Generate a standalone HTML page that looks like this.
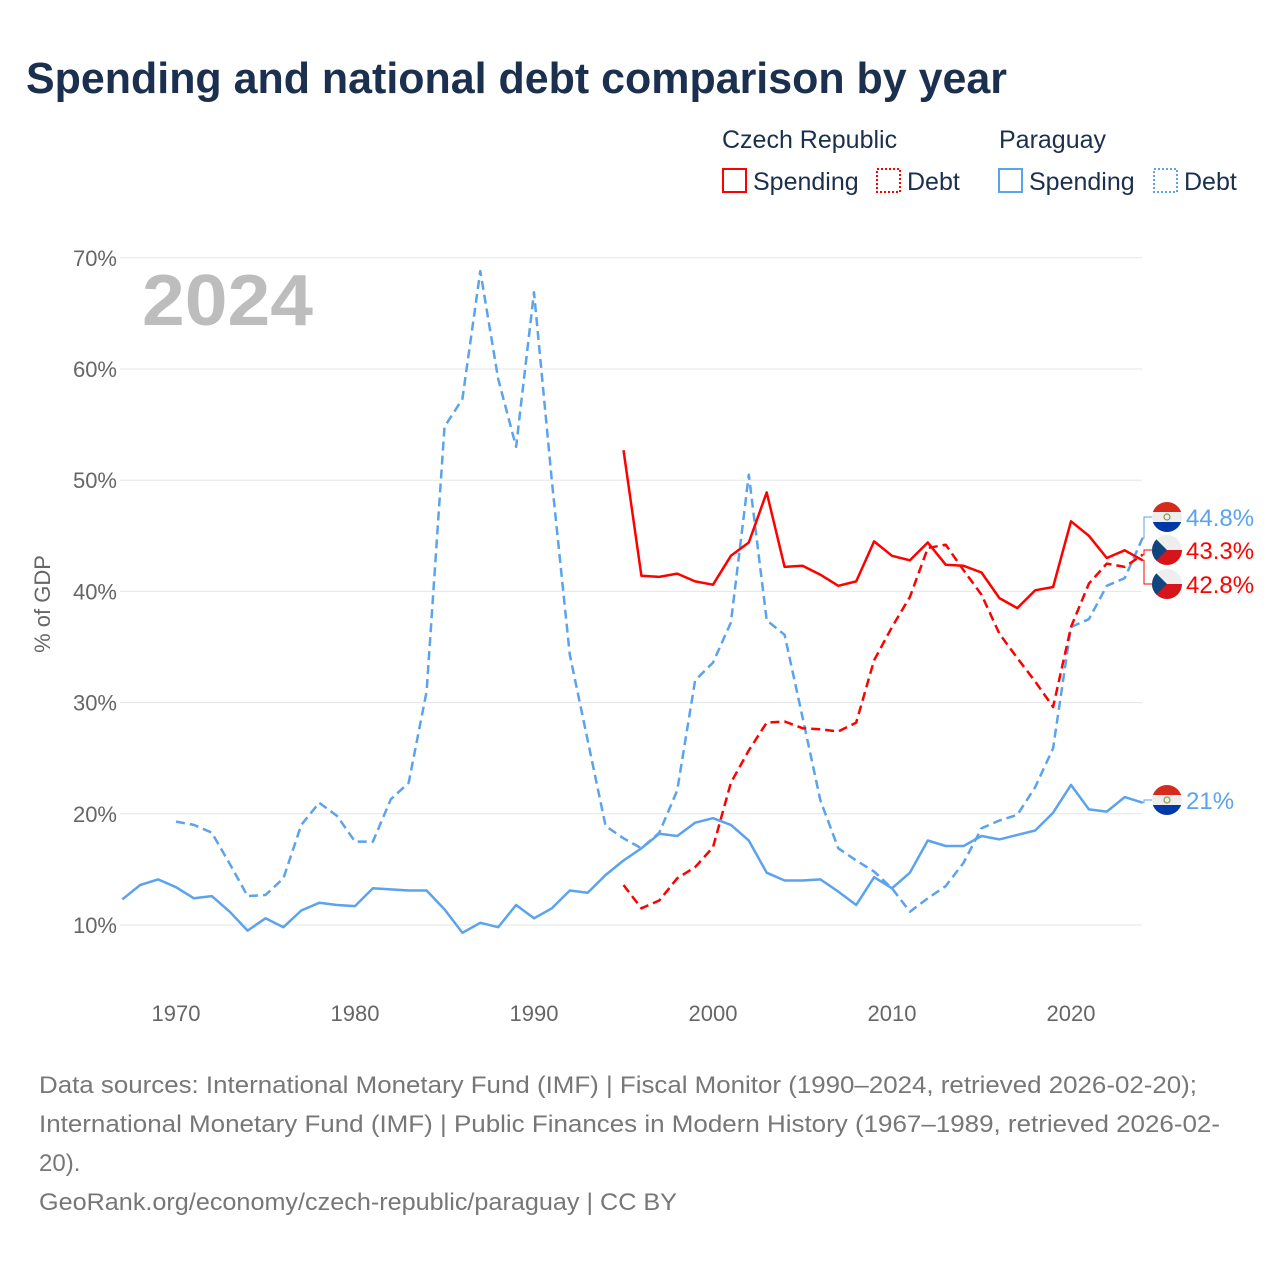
<!DOCTYPE html>
<html><head><meta charset="utf-8">
<style>
body{margin:0;background:#fff;width:1280px;height:1280px;overflow:hidden;font-family:"Liberation Sans",sans-serif;}
</style></head>
<body>
<svg id="chart" width="1280" height="1280" xmlns="http://www.w3.org/2000/svg" font-family="Liberation Sans, sans-serif">
<text x="26" y="93" font-size="44" font-weight="bold" fill="#1b2f4e" textLength="981" lengthAdjust="spacingAndGlyphs">Spending and national debt comparison by year</text>
<g font-size="25" fill="#1b2f4e">
<text x="722" y="148">Czech Republic</text>
<text x="999" y="148">Paraguay</text>
<g><rect x="723" y="169" width="23" height="23" fill="none" stroke="#f00" stroke-width="2"/><text x="753" y="190">Spending</text></g>
<g><rect x="877" y="169" width="23" height="23" fill="none" stroke="#f00" stroke-width="2" stroke-dasharray="2,2"/><text x="907" y="190">Debt</text></g>
<g><rect x="999" y="169" width="23" height="23" fill="none" stroke="#5ba3ec" stroke-width="2"/><text x="1029" y="190">Spending</text></g>
<g><rect x="1154" y="169" width="23" height="23" fill="none" stroke="#5ba3ec" stroke-width="2" stroke-dasharray="2,2"/><text x="1184" y="190">Debt</text></g>
</g>
<text x="142" y="325" font-size="72" font-weight="bold" fill="#bdbdbd" textLength="171" lengthAdjust="spacingAndGlyphs">2024</text>
<text transform="translate(50,604) rotate(-90)" text-anchor="middle" font-size="22" fill="#666">% of GDP</text>
<g id="grid"></g><g id="series"></g><g id="labels"></g>
<g font-size="24" fill="#777">
<text x="39" y="1093" textLength="1158" lengthAdjust="spacingAndGlyphs">Data sources: International Monetary Fund (IMF) | Fiscal Monitor (1990–2024, retrieved 2026-02-20);</text>
<text x="39" y="1132" textLength="1181" lengthAdjust="spacingAndGlyphs">International Monetary Fund (IMF) | Public Finances in Modern History (1967–1989, retrieved 2026-02-</text>
<text x="39" y="1171">20).</text>
<text x="39" y="1210" textLength="638" lengthAdjust="spacingAndGlyphs">GeoRank.org/economy/czech-republic/paraguay | CC BY</text>
</g>
</svg>
<script>
const yTicks=[10,20,30,40,50,60,70];
const xTicks=[1970,1980,1990,2000,2010,2020];
const pySpendStart=1967;
const pySpend=[12.3,13.6,14.1,13.4,12.4,12.6,11.2,9.5,10.6,9.8,11.3,12.0,11.8,11.7,13.3,13.2,13.1,13.1,11.4,9.3,10.2,9.8,11.8,10.6,11.5,13.1,12.9,14.5,15.8,16.9,18.2,18.0,19.2,19.6,19.0,17.6,14.7,14.0,14.0,14.1,13.0,11.8,14.3,13.3,14.7,17.6,17.1,17.1,18.0,17.7,18.1,18.5,20.1,22.6,20.4,20.2,21.5,21.0];
const pyDebtStart=1970;
const pyDebt=[19.3,19.0,18.3,15.5,12.6,12.7,14.2,19.0,21.0,19.8,17.5,17.5,21.3,22.8,31.0,54.8,57.3,68.8,59.1,53.0,66.9,49.9,34.3,26.6,18.9,17.8,16.9,18.3,22.1,32.0,33.6,37.2,50.5,37.4,36.1,28.7,21.2,16.9,15.8,14.8,13.3,11.2,12.4,13.5,15.6,18.7,19.4,19.9,22.4,25.9,36.8,37.5,40.5,41.2,44.8];
const czStart=1995;
const czSpend=[52.7,41.4,41.3,41.6,40.9,40.6,43.2,44.4,48.9,42.2,42.3,41.5,40.5,40.9,44.5,43.2,42.8,44.4,42.4,42.3,41.7,39.4,38.5,40.1,40.4,46.3,45.0,43.0,43.7,42.8];
const czDebt=[13.6,11.5,12.2,14.2,15.2,17.0,22.8,25.7,28.2,28.3,27.7,27.6,27.4,28.2,33.8,36.8,39.5,43.9,44.2,41.9,39.7,36.2,34.0,31.9,29.6,36.8,40.7,42.5,42.2,43.3];
const NS='http://www.w3.org/2000/svg';
const X=yr=>176+(yr-1970)*17.9;
const Y=v=>925-(v-10)*11.12;
function mk(t,a,p){const e=document.createElementNS(NS,t);for(const k in a)e.setAttribute(k,a[k]);p.appendChild(e);return e;}
const grid=document.getElementById('grid');
yTicks.forEach(v=>{
 const l=mk('line',{x1:120,x2:1142,y1:Y(v),y2:Y(v),stroke:'#e6e6e6','stroke-width':1},grid);
 
 
 const t=mk('text',{x:117,y:Y(v)+8,'text-anchor':'end','font-size':22,fill:'#666'},grid);
 t.textContent=v+'%';
 
 
});
xTicks.forEach(yr=>{
 const t=mk('text',{x:X(yr),y:1021,'text-anchor':'middle','font-size':22,fill:'#666'},grid);
 t.textContent=yr;
 
 
});
const series=document.getElementById('series');
function line(vals,start,color,dash,name){
 const d=vals.map((v,i)=>(i?'L':'M')+X(start+i).toFixed(1)+','+Y(v).toFixed(1)).join(' ');
 const p=mk('path',{d:d,fill:'none',stroke:color,'stroke-width':2.5,'stroke-linejoin':'round'},series);
 if(dash)p.setAttribute('stroke-dasharray','9,5');
 
 
}
line(pySpend,pySpendStart,'#5ba3ec',false,'line-paraguay-spending');
line(pyDebt,pyDebtStart,'#5ba3ec',true,'line-paraguay-debt');
line(czSpend,czStart,'#f00',false,'line-czech-spending');
line(czDebt,czStart,'#f00',true,'line-czech-debt');
const labels=document.getElementById('labels');
function flag(cy,type){
 const g=mk('g',{},labels);
 
 
 const cx=1167;
 const cp='c'+cy;
 const c=mk('clipPath',{id:cp},g);mk('circle',{cx:cx,cy:cy,r:15},c);
 const inner=mk('g',{'clip-path':'url(#'+cp+')'},g);
 if(type==='py'){
  mk('rect',{x:cx-15,y:cy-15,width:30,height:10,fill:'#d52b1e'},inner);
  mk('rect',{x:cx-15,y:cy-5,width:30,height:10,fill:'#eee'},inner);
  mk('rect',{x:cx-15,y:cy+5,width:30,height:10,fill:'#0038a8'},inner);
  mk('circle',{cx:cx,cy:cy,r:3,fill:'none',stroke:'#8a9a3a','stroke-width':1.2},inner);
 }else{
  mk('rect',{x:cx-15,y:cy-15,width:30,height:15,fill:'#eee'},inner);
  mk('rect',{x:cx-15,y:cy,width:30,height:15,fill:'#d7141a'},inner);
  mk('polygon',{points:(cx-15)+','+(cy-15)+' '+cx+','+cy+' '+(cx-15)+','+(cy+15),fill:'#11457e'},inner);
 }
}
function endLabel(val,ly,color,type,name){
 const y0=Y(val);
 const p=mk('path',{d:'M1142,'+y0+' H1144 V'+ly+' H1152',fill:'none',stroke:color,'stroke-width':1},labels);
 
 
 flag(ly,type);
 const t=mk('text',{x:1186,y:ly+9,'font-size':24,fill:color},labels);
 t.textContent=(Math.round(val*10)/10)+'%';
 
 
}
endLabel(pyDebt[pyDebt.length-1],517,'#5ba3ec','py','paraguay-debt');
endLabel(czDebt[czDebt.length-1],550,'#f00','cz','czech-debt');
endLabel(czSpend[czSpend.length-1],584,'#f00','cz','czech-spending');
endLabel(pySpend[pySpend.length-1],800,'#5ba3ec','py','paraguay-spending');
</script>
</body></html>
